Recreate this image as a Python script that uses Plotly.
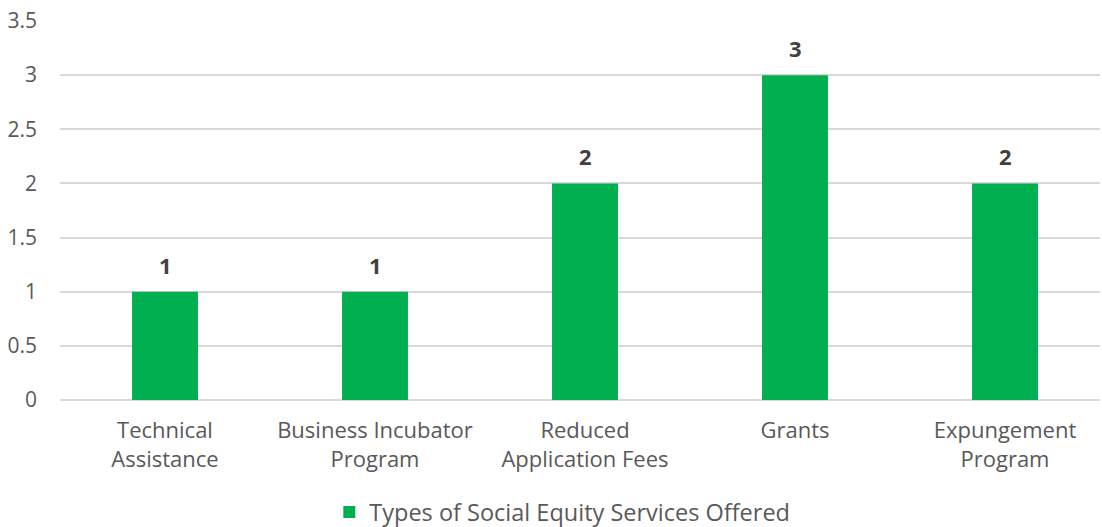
import plotly.graph_objects as go

categories = ["Technical<br>Assistance", "Business Incubator<br>Program", "Reduced<br>Application Fees", "Grants", "Expungement<br>Program"]
values = [1, 1, 2, 3, 2]
series_name = "Types of Social Equity Services Offered"
y_ticks = [0, 0.5, 1, 1.5, 2, 2.5, 3, 3.5]
y_tick_labels = ["0", "0.5", "1", "1.5", "2", "2.5", "3", "3.5"]

font_family = "Open Sans, sans-serif"

fig = go.Figure()
xs = list(range(len(categories)))
fig.add_trace(go.Bar(
    x=xs,
    y=values,
    name=series_name,
    marker=dict(color="#00B050", line=dict(width=0)),
    width=0.314,
    showlegend=True,
))

for xi, v in zip(xs, values):
    fig.add_annotation(
        x=xi, y=v, text="<b>%g</b>" % v, showarrow=False,
        yshift=27, yanchor="middle",
        font=dict(family=font_family, size=22, color="#404040"),
    )

fig.update_layout(
    width=1102, height=527,
    margin=dict(l=60, r=2, t=21, b=127, autoexpand=False),
    paper_bgcolor="white", plot_bgcolor="white",
    font=dict(family=font_family, color="#595959"),
    xaxis=dict(
        range=[-0.5, -0.5 + 1040 / 210],
        tickvals=xs,
        ticktext=categories,
        tickfont=dict(size=22, color="#595959"),
        showgrid=False, zeroline=False, showline=False, ticks="",
        automargin=False, ticklabelstandoff=15,
    ),
    yaxis=dict(
        range=[0, 3.5],
        tickvals=y_ticks, ticktext=y_tick_labels,
        tickfont=dict(size=21, color="#595959"),
        showgrid=True, gridcolor="#D9D9D9", gridwidth=1.5,
        zeroline=True, zerolinecolor="#D9D9D9", zerolinewidth=1.5,
        ticks="", ticklabelstandoff=22, automargin=False,
    ),
    legend=dict(
        orientation="h", x=0.483, xanchor="center", y=-0.296, yanchor="middle",
        font=dict(size=23.5, color="#595959"),
        itemsizing="constant",
    ),
    bargap=0.686,
)

fig.write_html("out.html", config={"displayModeBar": False},
               post_script="document.body.style.margin='0px';")
